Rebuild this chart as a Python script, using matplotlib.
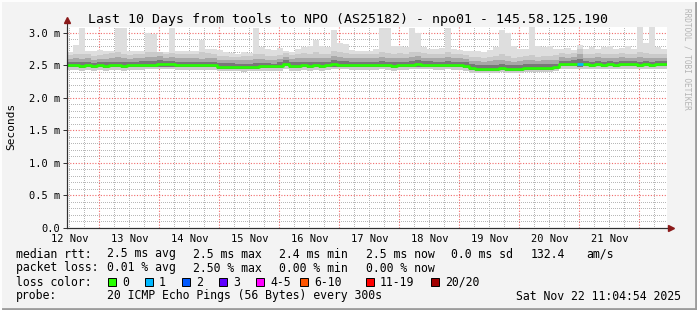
import matplotlib
matplotlib.use("Agg")
import matplotlib.pyplot as plt
import numpy as np
from matplotlib.patches import Rectangle
from matplotlib.lines import Line2D

# ---------------- data (ms) ----------------
t_start = 0.4617          # days since 12 Nov 00:00 (11:04:54)
bin_days = 0.1            # 2.4 h per bin

median = [2.50,2.51,2.49,2.50,2.49,2.50,2.49,2.50,2.50,2.49,
          2.50,2.50,2.51,2.51,2.51,2.52,2.52,2.52,2.51,2.50,
          2.51,2.50,2.50,2.50,2.51,2.48,2.48,2.48,2.48,2.47,
          2.48,2.48,2.49,2.49,2.49,2.49,2.53,2.49,2.49,2.50,
          2.49,2.50,2.49,2.50,2.52,2.51,2.51,2.50,2.51,2.50,
          2.50,2.50,2.51,2.50,2.49,2.50,2.50,2.51,2.52,2.51,
          2.51,2.50,2.50,2.51,2.50,2.50,2.49,2.46,2.45,2.45,
          2.45,2.45,2.46,2.45,2.45,2.45,2.46,2.46,2.46,2.46,
          2.46,2.47,2.52,2.52,2.53,2.52,2.52,2.51,2.52,2.51,
          2.52,2.51,2.52,2.52,2.52,2.51,2.52,2.51,2.52,2.52]

loss = [0]*85 + [1] + [0]*14

p_max = [2.70,2.81,3.08,2.72,2.72,2.74,2.72,2.73,3.08,3.08,
         2.72,2.73,2.72,3.00,2.98,2.71,2.70,3.08,2.72,2.72,
         2.73,2.72,2.89,2.75,2.75,2.74,2.70,2.69,2.68,2.70,
         2.69,3.08,2.78,2.75,2.74,2.77,2.72,2.70,2.75,2.78,
         2.80,2.89,2.80,2.78,3.04,2.85,2.83,2.74,2.72,2.73,
         2.72,2.75,3.08,3.08,2.80,2.80,2.79,3.07,3.00,2.78,
         2.76,2.76,2.77,3.07,2.76,2.74,2.72,2.73,2.72,2.70,
         2.74,2.78,3.04,3.00,2.80,2.76,2.76,3.10,2.80,2.78,
         2.80,2.76,2.75,2.77,2.74,2.81,2.76,2.78,2.76,2.79,
         2.80,2.76,2.77,2.80,2.76,3.10,2.85,3.10,2.78,2.76]

p_hi3 = [2.66,2.68,2.67,2.67,2.65,2.66,2.67,2.69,2.70,2.68,
         2.66,2.67,2.68,2.70,2.70,2.70,2.67,2.69,2.67,2.67,
         2.67,2.68,2.70,2.69,2.67,2.65,2.64,2.63,2.63,2.64,
         2.64,2.67,2.67,2.65,2.64,2.66,2.69,2.66,2.67,2.69,
         2.68,2.70,2.68,2.68,2.72,2.70,2.69,2.67,2.67,2.67,
         2.67,2.68,2.70,2.69,2.68,2.69,2.67,2.70,2.71,2.69,
         2.68,2.67,2.68,2.70,2.67,2.67,2.66,2.63,2.63,2.62,
         2.63,2.65,2.67,2.64,2.62,2.63,2.65,2.66,2.63,2.65,
         2.65,2.66,2.69,2.68,2.69,2.75,2.68,2.68,2.69,2.67,
         2.68,2.68,2.69,2.68,2.68,2.70,2.69,2.67,2.68,2.68]

p_hi2 = [2.60,2.62,2.60,2.61,2.59,2.60,2.60,2.62,2.63,2.61,
         2.60,2.61,2.62,2.63,2.63,2.64,2.62,2.63,2.61,2.61,
         2.61,2.62,2.60,2.62,2.61,2.59,2.59,2.58,2.58,2.58,
         2.58,2.60,2.60,2.59,2.58,2.60,2.63,2.60,2.61,2.62,
         2.61,2.62,2.61,2.62,2.64,2.63,2.62,2.61,2.61,2.61,
         2.61,2.62,2.63,2.62,2.61,2.62,2.61,2.63,2.64,2.62,
         2.62,2.61,2.62,2.63,2.61,2.61,2.60,2.57,2.57,2.56,
         2.57,2.58,2.58,2.57,2.56,2.57,2.58,2.59,2.57,2.58,
         2.58,2.59,2.63,2.62,2.63,2.68,2.62,2.62,2.63,2.61,
         2.62,2.62,2.63,2.62,2.62,2.63,2.62,2.61,2.62,2.62]

p_hi1 = [2.55,2.56,2.55,2.55,2.54,2.55,2.55,2.56,2.56,2.55,
         2.55,2.56,2.57,2.57,2.57,2.58,2.57,2.57,2.56,2.56,
         2.56,2.56,2.55,2.56,2.56,2.54,2.54,2.54,2.53,2.53,
         2.53,2.54,2.54,2.54,2.53,2.55,2.58,2.55,2.55,2.56,
         2.55,2.56,2.55,2.56,2.58,2.57,2.57,2.56,2.56,2.56,
         2.56,2.56,2.57,2.56,2.55,2.56,2.56,2.57,2.58,2.57,
         2.57,2.56,2.56,2.57,2.56,2.56,2.55,2.52,2.51,2.51,
         2.51,2.51,2.52,2.51,2.51,2.51,2.52,2.52,2.52,2.52,
         2.52,2.53,2.57,2.57,2.58,2.60,2.57,2.56,2.57,2.56,
         2.57,2.56,2.57,2.57,2.57,2.56,2.57,2.56,2.57,2.57]

p_lo2 = [2.47,2.47,2.46,2.47,2.46,2.47,2.46,2.47,2.47,2.46,
         2.47,2.47,2.47,2.48,2.48,2.48,2.48,2.48,2.47,2.47,
         2.47,2.47,2.47,2.47,2.47,2.45,2.45,2.45,2.45,2.44,
         2.45,2.45,2.46,2.46,2.46,2.46,2.49,2.46,2.46,2.47,
         2.46,2.47,2.46,2.47,2.48,2.48,2.48,2.47,2.47,2.47,
         2.47,2.47,2.48,2.47,2.46,2.47,2.47,2.48,2.48,2.48,
         2.48,2.47,2.47,2.48,2.47,2.47,2.46,2.43,2.42,2.42,
         2.42,2.42,2.43,2.42,2.42,2.42,2.43,2.43,2.43,2.43,
         2.43,2.44,2.49,2.49,2.49,2.48,2.49,2.48,2.49,2.48,
         2.49,2.48,2.49,2.49,2.49,2.48,2.49,2.48,2.49,2.49]

p_lo = [2.43,2.43,2.42,2.43,2.42,2.43,2.42,2.43,2.43,2.42,
        2.43,2.43,2.43,2.44,2.44,2.44,2.44,2.44,2.43,2.43,
        2.43,2.43,2.43,2.43,2.43,2.41,2.41,2.41,2.41,2.40,
        2.41,2.41,2.42,2.42,2.42,2.42,2.44,2.42,2.42,2.43,
        2.42,2.43,2.42,2.43,2.44,2.44,2.44,2.43,2.43,2.43,
        2.43,2.43,2.44,2.43,2.42,2.43,2.43,2.44,2.44,2.44,
        2.44,2.43,2.43,2.44,2.43,2.43,2.42,2.39,2.39,2.39,
        2.39,2.39,2.40,2.39,2.39,2.39,2.40,2.40,2.40,2.40,
        2.40,2.41,2.45,2.45,2.45,2.44,2.45,2.44,2.45,2.44,
        2.45,2.44,2.45,2.45,2.45,2.44,2.45,2.44,2.45,2.45]

day_labels = ["12 Nov", "13 Nov", "14 Nov", "15 Nov", "16 Nov",
              "17 Nov", "18 Nov", "19 Nov", "20 Nov", "21 Nov"]
ytick_vals = [0.0, 0.5, 1.0, 1.5, 2.0, 2.5, 3.0]
ytick_labels = ["0.0", "0.5 m", "1.0 m", "1.5 m", "2.0 m", "2.5 m", "3.0 m"]

loss_names = ["0", "1", "2", "3", "4-5", "6-10", "11-19", "20/20"]
loss_colors = ["#26ff00", "#00b8ff", "#0059ff", "#5e00ff", "#ff00ff",
               "#ff5500", "#ff0000", "#a10000"]

title = "Last 10 Days from tools to NPO (AS25182) - npo01 - 145.58.125.190"

# ---------------- figure ----------------
W, H = 697, 310
fig = plt.figure(figsize=(W/100, H/100), dpi=100, facecolor="#f3f3f3")
mono = "DejaVu Sans Mono"

def fx(px): return px / W
def fy(py): return 1 - py / H

ax = fig.add_axes([fx(67), fy(228), 600/W, 201/H])
ax.set_facecolor("white")

n = len(median)
edges = t_start + bin_days * np.arange(n + 1)
def ext(a): return np.append(np.asarray(a, float), a[-1])

ax.set_xlim(t_start, t_start + 10)
ax.set_ylim(0, 3.092)

# grid (dotted)
gkw = dict(lw=0.72, ls=(0, (1, 2)), antialiased=False)
rkw = dict(lw=0.8, ls=(0, (1, 1.5)))
minor_y = [v/10 for v in range(1, 31) if v % 5 != 0]
for v in minor_y:
    ax.axhline(v, color="#b8b8b8", zorder=0.5, **gkw)
for v in ytick_vals[1:]:
    ax.axhline(v, color="#f06a6a", zorder=0.6, **rkw)
qd = np.arange(0.25, 11, 0.25)
for d in qd:
    if t_start < d < t_start + 10:
        if abs(d - round(d)) < 1e-9:
            ax.axvline(d, color="#f06a6a", zorder=0.6, **rkw)
        else:
            ax.axvline(d, color="#b8b8b8", zorder=0.5, **gkw)

# smoke
kw = dict(step="post", lw=0, zorder=2)
ax.fill_between(edges, ext(p_lo), ext(p_max), color="#dedede", **kw)
ax.fill_between(edges, ext(p_lo), ext(p_hi3), color="#cacaca", **kw)
ax.fill_between(edges, ext(p_lo2), ext(p_hi2), color="#a8a8a8", **kw)
ax.fill_between(edges, ext(p_lo2), ext(p_hi1), color="#787878", **kw)

# median line
ax.step(edges, ext(median), where="post", color=loss_colors[0], lw=1.9, zorder=3)
for i, l in enumerate(loss):
    if l > 0:
        ax.hlines(median[i], edges[i], edges[i+1], color=loss_colors[min(l, 7)],
                  lw=1.9, zorder=4)

# axes style
for s in ["top", "right"]:
    ax.spines[s].set_visible(False)
for s in ["left", "bottom"]:
    ax.spines[s].set_color("#303030")
    ax.spines[s].set_linewidth(0.8)
    ax.spines[s].set_zorder(5)

ax.set_yticks(ytick_vals)
ax.set_yticklabels(ytick_labels, fontfamily=mono, fontsize=7.5)
ax.tick_params(axis="y", length=3, width=0.7, color="#303030", pad=2)
ax.set_xticks([d + 0.5 for d in range(10)])
ax.set_xticklabels(day_labels, fontfamily=mono, fontsize=7.5)
ax.tick_params(axis="x", length=0, pad=4)

# axis extensions + arrows
fig.add_artist(Line2D([fx(67), fx(67)], [fy(228), fy(21)], color="#303030", lw=0.8))
fig.add_artist(Line2D([fx(67), fx(670)], [fy(228), fy(228)], color="#303030", lw=0.8))
fig.add_artist(Line2D([fx(67)], [fy(20)], marker="^", ms=5, color="#8b1a1a", lw=0))
fig.add_artist(Line2D([fx(671)], [fy(228)], marker=">", ms=5, color="#8b1a1a", lw=0))

# texts
fig.text(fx(348), fy(19), title, ha="center", va="center", fontfamily=mono, fontsize=9.5)
fig.text(fx(11), fy(126), "Seconds", rotation=90, ha="center", va="center",
         fontfamily=mono, fontsize=8)
fig.text(fx(687), fy(59), "RRDTOOL / TOBI OETIKER", rotation=270, ha="center",
         va="center", fontfamily=mono, fontsize=5.6, color="#b4b4b4")

fs = 8.3
def t(xp, yp, s, **k):
    fig.text(fx(xp), fy(yp), s, ha=k.pop("ha", "left"), va="center",
             fontfamily=mono, fontsize=fs, **k)

row1 = 254; row2 = 268; row3 = 282; row4 = 296
t(16, row1, "median rtt:")
for xp, s in [(107, "2.5 ms avg"), (193, "2.5 ms max"), (279, "2.4 ms min"),
              (366, "2.5 ms now"), (451, "0.0 ms sd"), (531, "132.4"), (586, "am/s")]:
    t(xp, row1, s)
t(16, row2, "packet loss:")
for xp, s in [(107, "0.01 % avg"), (193, "2.50 % max"), (279, "0.00 % min"),
              (366, "0.00 % now")]:
    t(xp, row2, s)
t(16, row3, "loss color:")
box_x = [108, 145, 182, 219, 256, 300, 366, 431]
for bx, name, col in zip(box_x, loss_names, loss_colors):
    fig.add_artist(Rectangle((fx(bx), fy(286)), 8/W, 8/H, facecolor=col,
                             edgecolor="black", lw=0.7))
    t(bx + 14, row3, name)
t(16, row4, "probe:")
t(107, row4, "20 ICMP Echo Pings (56 Bytes) every 300s")
t(681, row4, "Sat Nov 22 11:04:54 2025", ha="right")

# frame
fig.add_artist(Line2D([0, 1], [fy(308.5), fy(308.5)], color="#9c9c9c", lw=2))
fig.add_artist(Line2D([fx(695.5), fx(695.5)], [0, 1], color="#9c9c9c", lw=2))
fig.add_artist(Line2D([0, 1], [fy(0.5), fy(0.5)], color="#fdfdfd", lw=1.5))
fig.add_artist(Line2D([fx(0.5), fx(0.5)], [0, 1], color="#fdfdfd", lw=1.5))

fig.savefig("out.png", dpi=100, facecolor=fig.get_facecolor())
